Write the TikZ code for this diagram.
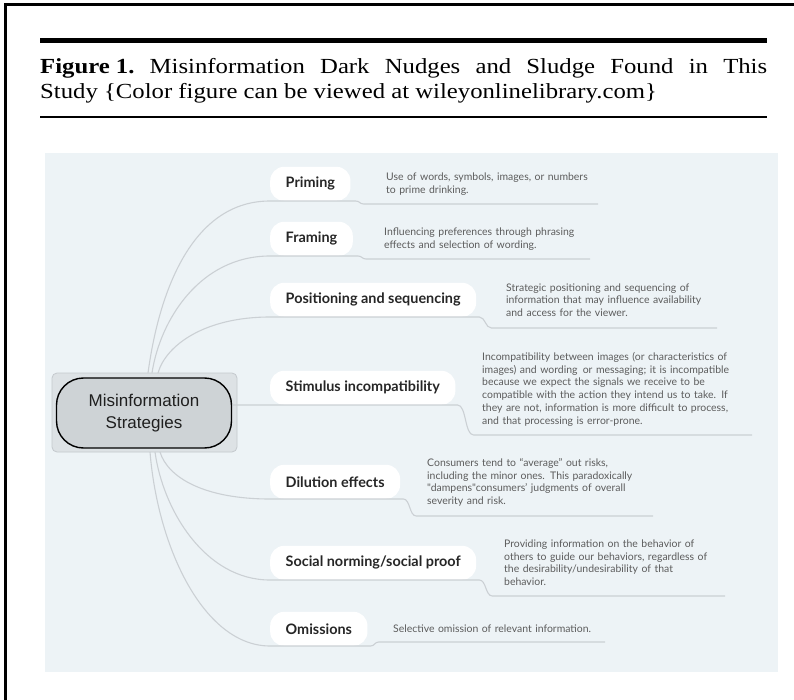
\documentclass[tikz,border=0pt]{standalone}
\usepackage{fontspec}
\setmainfont{Liberation Serif}
\newfontfamily\capfont[FakeStretch=1.15]{Liberation Serif}
\newfontfamily\labfont{Lato}
\newfontfamily\helv{Liberation Sans}
\usetikzlibrary{calc}
\definecolor{panelc}{RGB}{237,243,246}
\definecolor{linec}{RGB}{203,208,212}
\definecolor{descc}{RGB}{92,92,92}
\definecolor{labc}{RGB}{38,38,38}
\definecolor{rootouter}{RGB}{221,226,229}
\definecolor{rootedge}{RGB}{196,201,205}
\definecolor{rootinner}{RGB}{206,211,214}
\tikzset{
  pill/.style={fill=white, rounded corners=14pt, minimum height=34pt, inner xsep=15.5pt, inner ysep=0pt,
    anchor=south west, font=\labfont\bfseries\fontsize{14.4}{17}\selectfont, text=labc},
  desc/.style={anchor=base west, inner sep=0pt, text width=320pt, align=left,
    font=\labfont\fontsize{10.45}{12.7}\selectfont, text=descc},
  conn/.style={draw=linec, line width=1.1pt},
}
\begin{document}
\begin{tikzpicture}[x=1pt,y=-1pt]
\useasboundingbox (0,0) rectangle (794,700);
% frame
\draw[line width=3pt] (5.5,700) -- (5.5,5) -- (794,5);
% caption
\draw[line width=5pt] (40,40.5) -- (767,40.5);
\node[anchor=base west, inner sep=0pt, font=\capfont\fontsize{21.5}{25}\selectfont] (cap1) at (40,74)
  {\makebox[727pt][s]{\mbox{\textbf{Figure 1.}} Misinformation Dark Nudges and Sludge Found in This}};
\node[anchor=base west, inner sep=0pt, font=\capfont\fontsize{21.5}{25}\selectfont] (cap2) at (40,99)
  {Study \{Color figure can be viewed at wileyonlinelibrary.com\}};
\draw[line width=1.3pt] (40,117) -- (767,117);
% panel
\fill[panelc] (45,153) rectangle (778,672);
% root
\node[draw=rootedge, fill=rootouter, line width=0.8pt, rounded corners=5pt, minimum width=185pt,
  minimum height=79pt, inner sep=0pt] (root) at (144.5,412.5) {};
\node[draw=black, line width=1.4pt, fill=rootinner, rounded corners=27pt, minimum width=175pt,
  minimum height=70pt, inner sep=0pt, align=center, text=black!88,
  font=\helv\fontsize{17}{22}\selectfont] (rin) at (144,413) {Misinformation\\Strategies};
% pills
\node[pill] (p1) at (270,201) {Priming};
\node[pill] (p2) at (270,256) {Framing};
\node[pill] (p3) at (270,317) {Positioning and sequencing};
\node[pill] (p4) at (270,405) {Stimulus incompatibility};
\node[pill] (p5) at (270,499) {Dilution effects};
\node[pill] (p6) at (270,580) {Social norming/social proof};
\node[pill] (p7) at (270,646) {Omissions};
% descriptions
\node[desc] (d1) at (386,181) {Use of words, symbols, images, or numbers\\to prime drinking.};
\node[desc] (d2) at (384,236) {Influencing preferences through phrasing\\effects and selection of wording.};
\node[desc] (d3) at (506,291) {Strategic positioning and sequencing of\\information that may influence availability\\and access for the viewer.};
\node[desc] (d4) at (482,360.5) {Incompatibility between images (or characteristics of\\images) and wording\, or messaging; it is incompatible\\because we expect the signals we receive to be\\compatible with the action they intend us to take. If\\they are not, information is more difficult to process,\\and that processing is error-prone.};
\node[desc] (d5) at (427,466.5) {Consumers tend to “average” out risks,\\including the minor ones. This paradoxically\\"dampens"consumers’ judgments of overall\\severity and risk.};
\node[desc] (d6) at (504,547.5) {Providing information on the behavior of\\others to guide our behaviors, regardless of\\the desirability/undesirability of that\\behavior.};
\node[desc] (d7) at (393,632.5) {Selective omission of relevant information.};
% connector anchors
\coordinate (r1) at (148,373);
\coordinate (r2) at (152,373);
\coordinate (r3) at (158,373);
\coordinate (r4) at (233,405);
\coordinate (r5) at (160,452);
\coordinate (r6) at (155,452);
\coordinate (r7) at (150,452);
\coordinate (e1) at (598,204);
\coordinate (e2) at (590,259);
\coordinate (e3) at (717,328);
\coordinate (e4) at (752,435);
\coordinate (e5) at (653,516);
\coordinate (e6) at (725,596);
\coordinate (e7) at (605,642);
% connectors
\draw[conn] (r1) .. controls (160,285) and (195,201) .. (p1.south west) -- (p1.south east)
  -- ++(5,0) .. controls +(4,0) and +(-4,0) .. ++(8,3) -- (e1);
\draw[conn] (r2) .. controls (160,320) and (200,256) .. (p2.south west) -- (p2.south east)
  -- ++(5,0) .. controls +(4,0) and +(-4,0) .. ++(8,3) -- (e2);
\draw[conn] (r3) .. controls (166,345) and (205,317) .. (p3.south west) -- (p3.south east)
  -- ++(3,0) .. controls +(6,0) and +(-6,0) .. ++(12,11) -- (e3);
\draw[conn] (r4) -- (p4.south west) -- (p4.south east)
  -- ++(2,0) .. controls +(9,0) and +(-9,0) .. ++(16,30) -- (e4);
\draw[conn] (r5) .. controls (168,478) and (205,499) .. (p5.south west) -- (p5.south east)
  -- ++(3,0) .. controls +(7,0) and +(-7,0) .. ++(13,17) -- (e5);
\draw[conn] (r6) .. controls (163,510) and (205,580) .. (p6.south west) -- (p6.south east)
  -- ++(3,0) .. controls +(7,0) and +(-7,0) .. ++(13,16) -- (e6);
\draw[conn] (r7) .. controls (158,550) and (205,646) .. (p7.south west) -- (p7.south east)
  -- ++(3,0) .. controls +(4,0) and +(-4,0) .. ++(8,-4) -- (e7);
\end{tikzpicture}
\end{document}
